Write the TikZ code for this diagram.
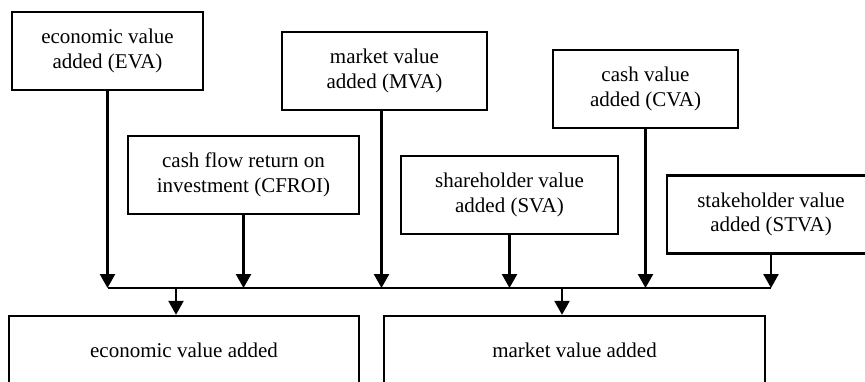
\documentclass[tikz,border=0pt]{standalone}
\usepackage{fontspec}
\setmainfont{Liberation Serif}
\usetikzlibrary{arrows.meta,positioning}

\begin{document}
\begin{tikzpicture}[x=0.5pt,y=-0.5pt,
		box/.style={draw,line width=1.2pt,align=center,inner sep=0pt,minimum height=39pt,font=\fontsize{10.5}{12.3}\selectfont},
		feed/.style={line width=1.2pt,-{Triangle[width=7.5pt,length=7pt]}}]
		\useasboundingbox (0,0) rectangle (865,381);
		\clip (0,0) rectangle (865,381);
		% measures
		\node[box,minimum width=95.5pt] (eva) at (107.5,51) {economic value\\added (EVA)};
		\node[box,minimum width=115.5pt] (cfroi) at (243.5,175) {cash flow return on\\investment (CFROI)};
		\node[box,minimum width=102.5pt] (mva) at (384.5,71) {market value\\added (MVA)};
		\node[box,minimum width=108.5pt] (sva) at (509.5,195) {shareholder value\\added (SVA)};
		\node[box,minimum width=92.5pt] (cva) at (645.5,89) {cash value\\added (CVA)};
		\node[box,minimum width=104pt] (stva) at (771,214.5) {stakeholder value\\added (STVA)};
		% concepts
		\node[box,minimum width=175pt,minimum height=34pt] (ev) at (184,350) {economic value added};
		\node[box,minimum width=190.5pt,minimum height=34pt] (mv) at (574.5,350) {market value added};
		% bus
		\coordinate (busl) at (108,288);
		\coordinate (busr) at (771,288);
		\coordinate (evin) at (176,288);
		\coordinate (mvin) at (562,288);
		\draw[line width=1.2pt] (busl) -- (busr);
		\draw[feed] (eva) -- (eva |- busl);
		\draw[feed] (cfroi) -- (cfroi |- busl);
		\draw[feed] ([xshift=-1.5pt]mva.south) -- ([xshift=-1.5pt]mva.south |- busl);
		\draw[feed] (sva) -- (sva |- busl);
		\draw[feed] (cva) -- (cva |- busl);
		\draw[feed] (stva) -- (stva |- busl);
		\draw[feed] (evin) -- (evin |- ev.north);
		\draw[feed] (mvin) -- (mvin |- mv.north);
	\end{tikzpicture}
\end{document}
